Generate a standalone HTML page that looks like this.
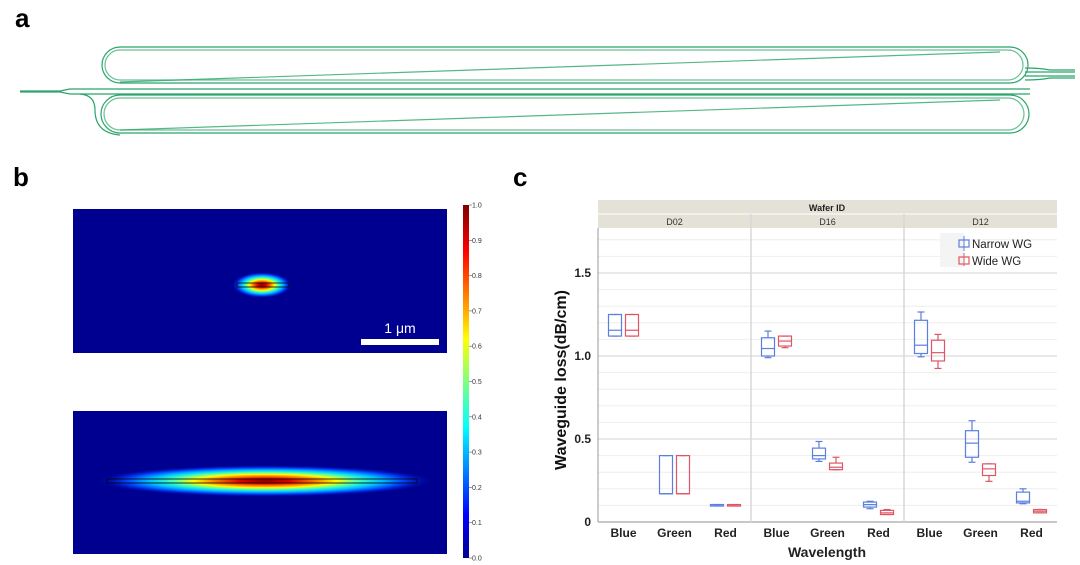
<!DOCTYPE html>
<html><head><meta charset="utf-8"><style>
html,body{margin:0;padding:0;background:#fff;width:1080px;height:565px;overflow:hidden;font-family:"Liberation Sans",sans-serif}
</style></head><body>
<svg width="1080" height="565" viewBox="0 0 1080 565" xmlns="http://www.w3.org/2000/svg">
<defs>
<radialGradient id="jet" cx="50%" cy="50%" r="50%">
<stop offset="0" stop-color="#800000"/><stop offset="0.15" stop-color="#e00000"/><stop offset="0.3" stop-color="#ff8000"/><stop offset="0.42" stop-color="#ffff00"/><stop offset="0.55" stop-color="#40ffc0"/><stop offset="0.68" stop-color="#00c0ff"/><stop offset="0.82" stop-color="#0040ff"/><stop offset="1" stop-color="#000090" stop-opacity="0"/>
</radialGradient>
<linearGradient id="cbar" x1="0" y1="1" x2="0" y2="0">
<stop offset="0" stop-color="#00008f"/><stop offset="0.12" stop-color="#0000ff"/><stop offset="0.37" stop-color="#00ffff"/><stop offset="0.5" stop-color="#80ff80"/><stop offset="0.62" stop-color="#ffff00"/><stop offset="0.87" stop-color="#ff0000"/><stop offset="1" stop-color="#800000"/>
</linearGradient>
</defs>
<text x="15" y="27" font-size="26" font-weight="bold">a</text>
<text x="13" y="186" font-size="26" font-weight="bold">b</text>
<text x="513" y="186" font-size="26" font-weight="bold">c</text>

<g fill="none" stroke="#2aa56a" stroke-width="1.2">
<path d="M20 91 H60 L70 89 H1030"/>
<path d="M20 92 H60 L70 94 H1030"/>
<path d="M120 47 H1010 A18 18 0 0 1 1010 83 L120 83 A18 18 0 0 1 120 47Z"/>
<path d="M120 50 H1008 A15 15 0 0 1 1008 80 L120 80 A15 15 0 0 1 120 50Z" stroke-opacity="0.7"/>
<path d="M120 95 H1010 A18 18 0 0 1 1010 133 L120 133 A18 18 0 0 1 120 95Z"/>
<path d="M120 98 H1008 A15 15 0 0 1 1008 130 L120 130 A15 15 0 0 1 120 98Z" stroke-opacity="0.7"/>
<path d="M120 82 L1000 52" stroke-opacity="0.8"/>
<path d="M120 130 L1000 100" stroke-opacity="0.8"/>
<path d="M1025 68 Q1040 68 1050 70 H1075 M1025 72 H1075 M1025 76 H1075 M1025 80 Q1040 80 1050 78 H1075"/>
<path d="M80 94 Q95 95 95 110 Q95 133 120 135"/>
</g>

<g>
<rect x="73" y="209" width="374" height="144" fill="#000090"/>
<ellipse cx="262" cy="285" rx="30" ry="13" fill="url(#jet)"/>
<rect x="237" y="283" width="52" height="4" fill="none" stroke="#000" stroke-width="0.8"/>
<rect x="361" y="339" width="78" height="6" fill="#fff"/>
<text x="400" y="333" font-size="14" fill="#fff" text-anchor="middle">1 μm</text>
</g>
<g>
<rect x="73" y="411" width="374" height="143" fill="#000090"/>
<ellipse cx="265" cy="481" rx="170" ry="16" fill="url(#jet)"/>
<rect x="107" y="479" width="310" height="4" fill="none" stroke="#000" stroke-width="0.8"/>
</g>
<g>
<rect x="463" y="205" width="6" height="353" fill="url(#cbar)"/>
<g id="cbticks" font-size="7" fill="#333"></g>
</g>

<g id="chart">
<rect x="598" y="200" width="459" height="28" fill="#e4e1d6"/>
<line x1="598" y1="214" x2="1057" y2="214" stroke="#fff" stroke-width="1"/>
<text x="827" y="211" font-size="9" font-weight="bold" text-anchor="middle" fill="#222">Wafer ID</text>
<g id="grid"></g>
<g id="facets"></g>
<g id="boxes"></g>
<g id="yaxis" font-size="12" font-weight="bold" fill="#222"></g>
<g id="xaxis" font-size="12" font-weight="bold" fill="#222"></g>
<text transform="translate(566 380) rotate(-90)" font-size="16" font-weight="bold" text-anchor="middle" fill="#111">Waveguide loss(dB/cm)</text>
<text x="827" y="557" font-size="14" font-weight="bold" text-anchor="middle" fill="#222">Wavelength</text>
<g>
<rect x="940" y="233" width="24" height="34" fill="#f4f4f4"/>
<rect x="959" y="240" width="10" height="7" fill="none" stroke="#5b7fe0" stroke-width="1.2"/>
<line x1="964" y1="236" x2="964" y2="251" stroke="#5b7fe0"/>
<rect x="959" y="257" width="10" height="7" fill="none" stroke="#e05565" stroke-width="1.2"/>
<line x1="964" y1="253" x2="964" y2="266" stroke="#e05565"/>
<text x="972" y="248" font-size="11.5" fill="#222">Narrow WG</text>
<text x="972" y="265" font-size="11.5" fill="#222">Wide WG</text>
</g>
</g>
</svg>
<script>
const cbTicks=["0.0","0.1","0.2","0.3","0.4","0.5","0.6","0.7","0.8","0.9","1.0"];
const wafers=["D02","D16","D12"];
const categories=["Blue","Green","Red"];
const yTicks=[0,0.5,1.0,1.5];
const yTickLabels=["0","0.5","1.0","1.5"];
// each: [min, q1, median, q3, max]
const narrowStats=[
 [[1.12,1.12,1.155,1.25,1.25],[0.17,0.17,0.17,0.40,0.40],[0.105,0.105,0.105,0.105,0.105]],
 [[0.99,1.0,1.045,1.11,1.15],[0.365,0.38,0.40,0.445,0.485],[0.08,0.09,0.105,0.12,0.125]],
 [[0.995,1.015,1.065,1.215,1.265],[0.36,0.39,0.475,0.55,0.61],[0.11,0.115,0.125,0.18,0.2]]
];
const wideStats=[
 [[1.12,1.12,1.155,1.25,1.25],[0.17,0.17,0.17,0.40,0.40],[0.105,0.105,0.105,0.105,0.105]],
 [[1.05,1.06,1.09,1.12,1.12],[0.315,0.315,0.33,0.355,0.39],[0.045,0.045,0.055,0.07,0.075]],
 [[0.925,0.97,1.02,1.095,1.13],[0.245,0.28,0.32,0.35,0.35],[0.055,0.055,0.065,0.075,0.075]]
];
const NS="http://www.w3.org/2000/svg";
function mk(tag,attrs,parent,txt){const e=document.createElementNS(NS,tag);for(const k in attrs)e.setAttribute(k,attrs[k]);if(txt!==undefined)e.textContent=txt;parent.appendChild(e);return e;}
const L=598,R=1057,T=228,B=522,yMax=1.771;
const y=v=>B-(v/yMax)*(B-T);
const facetW=(R-L)/wafers.length;
const xCat=(w,c)=>L+facetW*w+facetW*(c+0.5)/categories.length;
const cb=document.getElementById('cbticks');
cbTicks.forEach((t,i)=>{const yy=558-i*353/(cbTicks.length-1);
 const tx=mk('text',{x:472,y:yy+2.5},cb,t);
 
 
 mk('line',{x1:469,x2:472,y1:yy,y2:yy,stroke:'#555','stroke-width':0.6},cb);});
const g=document.getElementById('grid');
for(let v=0.1;v<=1.75;v+=0.1){mk('line',{x1:L,x2:R,y1:y(v),y2:y(v),stroke:'#eeeeee','stroke-width':1},g);}
yTicks.forEach(v=>{mk('line',{x1:L,x2:R,y1:y(v),y2:y(v),stroke:'#dcdcdc','stroke-width':1.2},g);});
mk('line',{x1:L,x2:L,y1:T,y2:B,stroke:'#999'},g);
mk('line',{x1:L,x2:R,y1:B,y2:B,stroke:'#999'},g);
const f=document.getElementById('facets');
wafers.forEach((w,i)=>{
 const t=mk('text',{x:L+facetW*(i+0.5),y:225,'font-size':9,'text-anchor':'middle',fill:'#333'},f,w);
 
 
 if(i>0){mk('line',{x1:L+facetW*i,x2:L+facetW*i,y1:214,y2:B,stroke:'#d8d8d8','stroke-width':1.5},f);}
});
const ya=document.getElementById('yaxis');
yTicks.forEach((v,i)=>{const t=mk('text',{x:591,y:y(v)+4,'text-anchor':'end'},ya,yTickLabels[i]);
 
 });
const xa=document.getElementById('xaxis');
wafers.forEach((w,wi)=>categories.forEach((c,ci)=>{const t=mk('text',{x:xCat(wi,ci),y:537,'text-anchor':'middle'},xa,c);
 
 }));
const bx=document.getElementById('boxes');
function drawBox(s,cx,col,name){
 const grp=mk('g',{fill:'none',stroke:col,'stroke-width':1.2},bx);
 
 
 const hw=6.5;
 mk('line',{x1:cx,x2:cx,y1:y(s[0]),y2:y(s[1])},grp);
 mk('line',{x1:cx,x2:cx,y1:y(s[3]),y2:y(s[4])},grp);
 mk('line',{x1:cx-3.5,x2:cx+3.5,y1:y(s[0]),y2:y(s[0])},grp);
 mk('line',{x1:cx-3.5,x2:cx+3.5,y1:y(s[4]),y2:y(s[4])},grp);
 const h=Math.max(y(s[1])-y(s[3]),1.5);
 mk('rect',{x:cx-hw,y:y(s[3]),width:2*hw,height:h},grp);
 mk('line',{x1:cx-hw,x2:cx+hw,y1:y(s[2]),y2:y(s[2])},grp);
}
wafers.forEach((w,wi)=>categories.forEach((c,ci)=>{
 drawBox(narrowStats[wi][ci],xCat(wi,ci)-8.5,'#5b7fe0','box-narrow-'+w.toLowerCase()+'-'+c.toLowerCase());
 drawBox(wideStats[wi][ci],xCat(wi,ci)+8.5,'#e05565','box-wide-'+w.toLowerCase()+'-'+c.toLowerCase());
}));
</script>
</body></html>
